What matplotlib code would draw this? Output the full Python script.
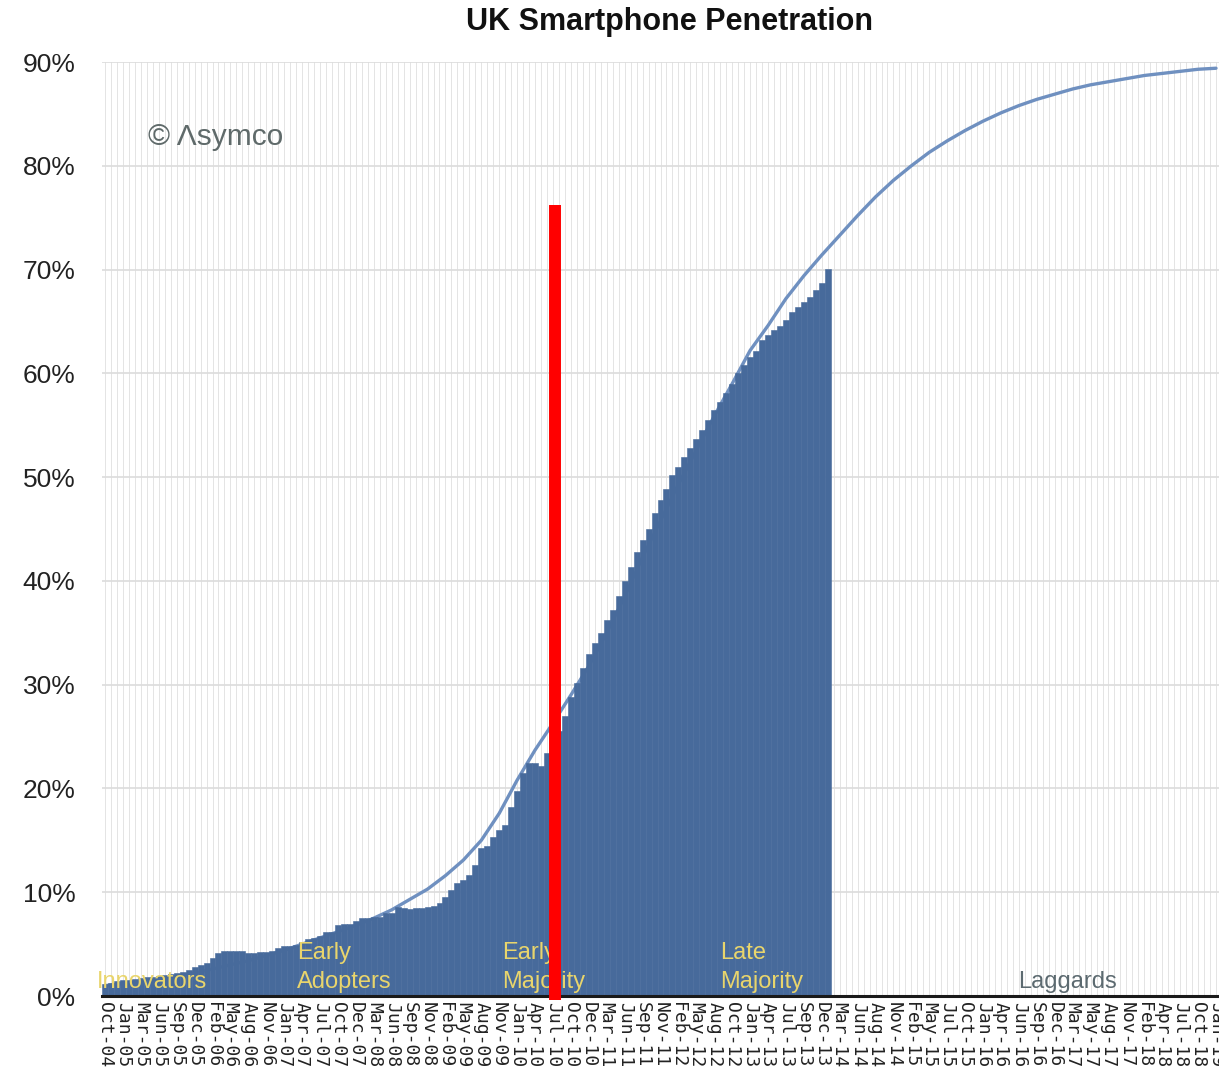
import numpy as np
import matplotlib
matplotlib.use("Agg")
import matplotlib.pyplot as plt

plt.rcParams['font.family'] = ['Liberation Sans', 'DejaVu Sans']

# tick labels: one every third 4-weekly period, Oct-04 .. Jan-19
period_labels = [
    "Oct-04", "Jan-05", "Mar-05", "Jun-05", "Sep-05", "Dec-05", "Feb-06", "May-06",
    "Aug-06", "Nov-06", "Jan-07", "Apr-07", "Jul-07", "Oct-07", "Dec-07", "Mar-08",
    "Jun-08", "Sep-08", "Nov-08", "Feb-09", "May-09", "Aug-09", "Nov-09", "Jan-10",
    "Apr-10", "Jul-10", "Oct-10", "Dec-10", "Mar-11", "Jun-11", "Sep-11", "Nov-11",
    "Feb-12", "May-12", "Aug-12", "Oct-12", "Jan-13", "Apr-13", "Jul-13", "Sep-13",
    "Dec-13", "Mar-14", "Jun-14", "Aug-14", "Nov-14", "Feb-15", "May-15", "Jul-15",
    "Oct-15", "Jan-16", "Apr-16", "Jun-16", "Sep-16", "Dec-16", "Mar-17", "May-17",
    "Aug-17", "Nov-17", "Feb-18", "Apr-18", "Jul-18", "Oct-18", "Jan-19",
]
periods_per_label = 3
n_periods = (len(period_labels) - 1) * periods_per_label + 1

# measured penetration (%), one value per period from Oct-04
penetration = [
    1.2, 1.3, 1.4, 1.5, 1.5, 1.6, 1.7, 1.8, 1.8, 1.9, 2.0, 2.1, 2.2, 2.3,
    2.5, 2.8, 3.0, 3.2, 3.7, 4.1, 4.3, 4.3, 4.3, 4.3, 4.1, 4.1, 4.2, 4.2, 4.3, 4.6, 4.8, 4.8,
    4.9, 5.2, 5.5, 5.6, 5.8, 6.2, 6.2, 6.8, 6.9, 6.9, 7.2, 7.5, 7.5, 7.6, 7.6, 8.0, 8.0, 8.6,
    8.5, 8.4, 8.5, 8.5, 8.6, 8.7, 9.0, 9.5, 10.2, 10.9, 11.2, 11.7, 12.6, 14.3, 14.5, 15.3,
    16.0, 16.5, 18.2, 19.8, 21.5, 22.5, 22.5, 22.2, 23.4,
    24.0, 25.5,
    27.0, 28.8, 30.2, 31.6, 33.0, 34.0, 35.0, 36.2, 37.2, 38.5, 40.0, 41.3, 42.8, 43.9,
    45.0, 46.5, 47.8,
    48.9, 50.2, 51.0, 51.9, 52.8, 53.7, 54.5, 55.5, 56.5, 57.2, 58.1, 59.0, 60.0, 60.8,
    61.6, 62.2, 63.2, 63.7, 64.2, 64.6, 65.1, 65.9, 66.4, 66.9, 67.4, 68.0, 68.7, 70.1,
]

# fitted S-curve (%), read at each labelled period
trend = [
    1.0, 1.2, 1.4, 1.6, 1.9, 2.2, 2.6, 3.0, 3.4, 3.9, 4.4, 5.0, 5.6, 6.2, 6.8,
    7.5, 8.3, 9.3, 10.3, 11.6, 13.1, 15.0, 17.6, 20.8, 23.7, 26.3, 29.0, 31.8, 35.0, 38.5,
    42.3, 45.8, 49.3, 52.6, 55.9, 59.0, 62.2, 64.6, 67.2, 69.4, 71.4, 73.3, 75.2, 77.0, 78.6,
    80.0, 81.3, 82.4, 83.4, 84.3, 85.1, 85.8, 86.4, 86.9, 87.4, 87.8, 88.1, 88.4, 88.7,
    88.9, 89.1, 89.3, 89.4,
]

# adoption segments and the period where each label starts
segment_names = ["Innovators", "Early\nAdopters", "Early\nMajority", "Late\nMajority", "Laggards"]
segment_starts = [-1.3, 32.2, 66.5, 103.0, 152.8]
segment_colors = ["#e9d56c", "#e9d56c", "#e9d56c", "#e9d56c", "#5c6a70"]

highlight_label = "Jul-10"
highlight_top = 76.2

bar_color = "#476a9b"
curve_color = "#6f90c0"

fig = plt.figure(figsize=(12.19, 10.79), dpi=100)
ax = fig.add_axes([102 / 1219, 83 / 1079, 1117 / 1219, 934 / 1079])

x_bars = np.arange(len(penetration))
ax.bar(x_bars, penetration, width=1.0, color=bar_color, edgecolor=bar_color,
       linewidth=0.4, zorder=3)

x_labels = np.arange(len(period_labels)) * periods_per_label
ax.plot(x_labels, trend, color=curve_color, linewidth=2.4, zorder=2,
        solid_capstyle='round', solid_joinstyle='round')

# red marker line
hx = period_labels.index(highlight_label) * periods_per_label + 0.4
ax.plot([hx, hx], [-0.4, highlight_top], color="#ff0000", linewidth=8.6,
        solid_capstyle='butt', zorder=6, clip_on=False)

for name, start, col in zip(segment_names, segment_starts, segment_colors):
    ax.text(start, 0.3, name, color=col, fontsize=17, ha='left', va='bottom',
            zorder=5, clip_on=False, linespacing=1.4)

ax.set_xlim(-0.5, n_periods - 0.5)
ax.set_ylim(0, 90)

ax.set_xticks(x_labels)
ax.set_xticklabels(period_labels, rotation=270, fontsize=13,
                   fontfamily='DejaVu Sans Mono', color='#222222')
ax.set_xticks(np.arange(n_periods), minor=True)
ax.set_yticks(np.arange(0, 91, 10))
ax.set_yticklabels([f"{v}%" for v in range(0, 91, 10)], fontsize=19, color='#222222')
ax.tick_params(axis='x', which='both', length=0, pad=4)
ax.tick_params(axis='y', length=0, pad=19)

ax.grid(axis='x', which='both', color='#e4e4e4', linewidth=0.7, zorder=0)
ax.grid(axis='y', which='major', color='#dcdcdc', linewidth=1.2, zorder=1)
ax.set_axisbelow(True)

for side in ['left', 'right', 'top']:
    ax.spines[side].set_visible(False)
ax.spines['bottom'].set_color('#1a1a1a')
ax.spines['bottom'].set_linewidth(2.2)
ax.spines['bottom'].set_zorder(4)

fig.text(670 / 1219, 1 - 22 / 1079, "UK Smartphone Penetration", fontsize=22,
         fontweight='bold', ha='center', va='center', color='#111111')
fig.text(148 / 1219, 1 - 137 / 1079, "\u00a9 \u039bsymco", fontsize=21.5,
         color='#5f6a6a', ha='left', va='center')

fig.savefig("out.png", dpi=100)
